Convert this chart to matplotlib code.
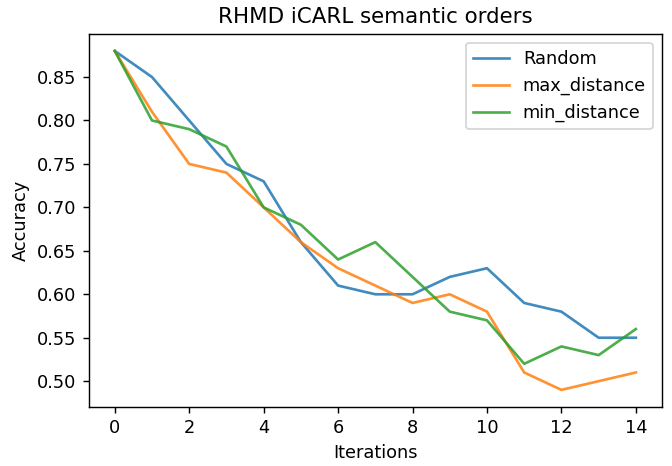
import matplotlib.pyplot as plt

iterations = list(range(15))
random_acc = [0.88, 0.85, 0.80, 0.75, 0.73, 0.66, 0.61, 0.60, 0.60, 0.62, 0.63, 0.59, 0.58, 0.55, 0.55]
max_dist_acc = [0.88, 0.81, 0.75, 0.74, 0.70, 0.66, 0.63, 0.61, 0.59, 0.60, 0.58, 0.51, 0.49, 0.50, 0.51]
min_dist_acc = [0.88, 0.80, 0.79, 0.77, 0.70, 0.68, 0.64, 0.66, 0.62, 0.58, 0.57, 0.52, 0.54, 0.53, 0.56]

# drawn at a higher dpi so text and lines come out larger, as in the reference
fig = plt.figure(figsize=(6.72 / 1.28, 4.66 / 1.28), dpi=128)
plt.subplots_adjust(left=0.132, right=0.985, top=0.927, bottom=0.127)
plt.plot(iterations, random_acc, label='Random', alpha=0.85)
plt.plot(iterations, max_dist_acc, label='max_distance', alpha=0.85)
plt.plot(iterations, min_dist_acc, label='min_distance', alpha=0.85)
plt.title('RHMD iCARL semantic orders')
plt.xlabel('Iterations')
plt.ylabel('Accuracy')
plt.legend(loc='upper right')
plt.savefig('out.png', dpi=128)
